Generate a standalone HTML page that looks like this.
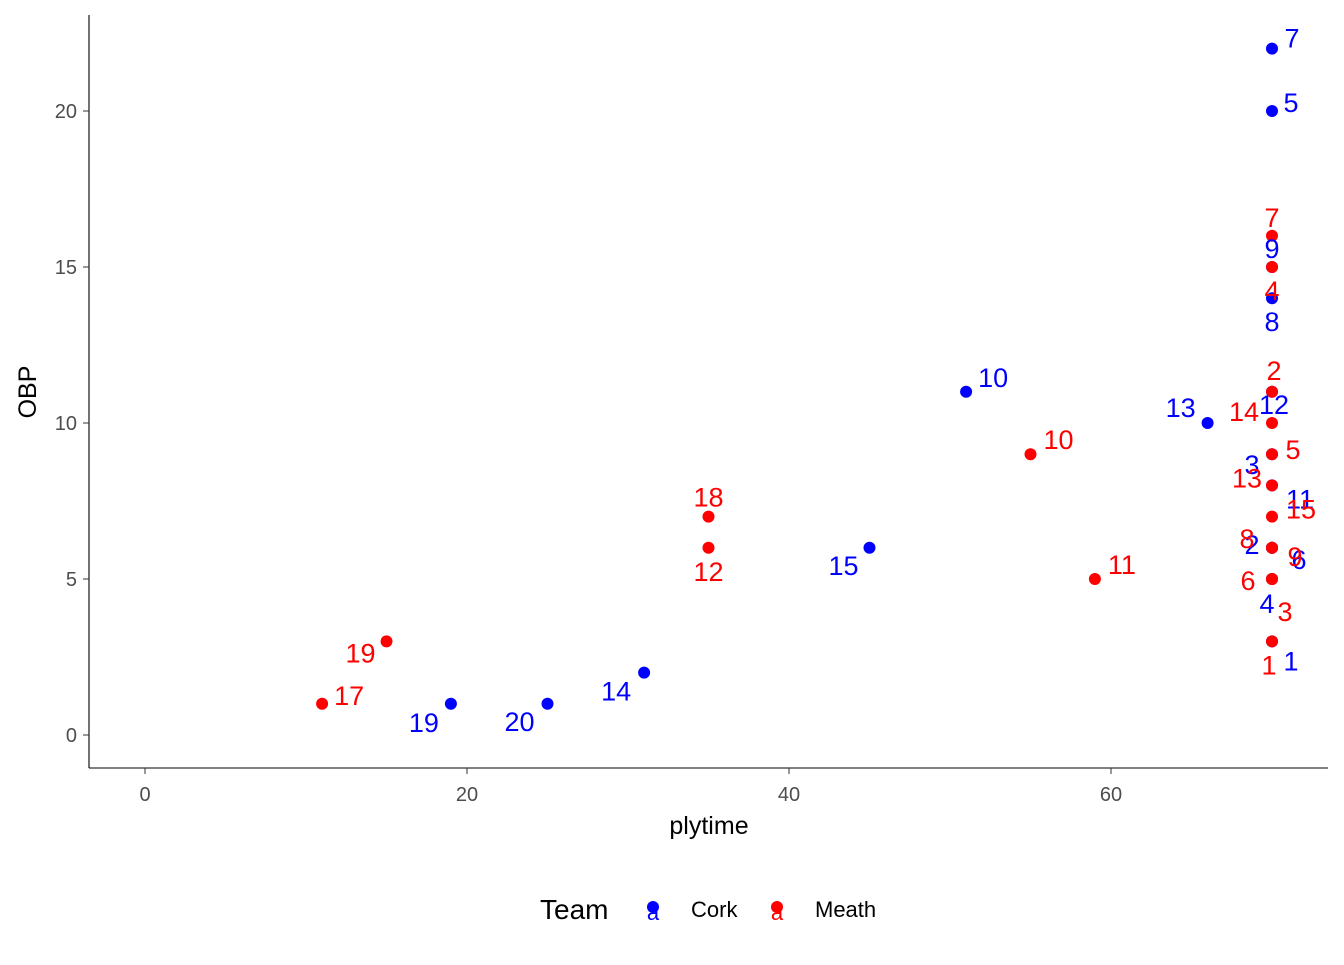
<!DOCTYPE html>
<html><head><meta charset="utf-8"><style>
body{margin:0;background:#fff}
text{font-family:"Liberation Sans",Arial,sans-serif}
</style></head><body>
<svg id="c" width="1344" height="960"></svg>
<script>
const corkX=[70,70,70,70,70,70,70,70,70,70,70,51,66,45,31,25,19];
const corkY=[22,20,15,14,11,9,8,6,6,5,3,11,10,6,2,1,1];
const corkLab=["7","5","9","8","12","3","11","2","6","4","1","10","13","15","14","20","19"];
const corkDx=[20,19,0,0,2,-20,28,-20,27,-5,19,27,-27,-26,-28,-28,-27];
const corkDy=[-11,-9,-19,23,12,10,13,-4,11,24,19,-15,-16,17,18,17,18];
const meathX=[70,70,70,70,70,70,70,70,70,70,70,70,55,59,35,35,15,11];
const meathY=[16,15,11,10,9,8,7,6,6,5,5,3,9,5,7,6,3,1];
const meathLab=["7","4","2","14","5","13","15","8","9","6","3","1","10","11","18","12","19","17"];
const meathDx=[0,0,2,-28,21,-25,29,-25,23,-24,13,-3,28,27,0,0,-26,27];
const meathDy=[-19,23,-22,-12,-5,-8,-8,-10,8,1,32,23,-15,-15,-20,23,11,-9];
const xTicks=[0,20,40,60];
const yTicks=[0,5,10,15,20];
const sx=v=>145+16.1*v, sy=v=>735-31.2*v;
const svg=document.getElementById('c');const NS='http://www.w3.org/2000/svg';
function mk(t,a,p){const e=document.createElementNS(NS,t);for(const k in a)e.setAttribute(k,a[k]);(p||svg).appendChild(e);return e;}
let e;
e=mk('line',{x1:89,y1:15,x2:89,y2:768,stroke:'#000','stroke-width':1.1});


e=mk('line',{x1:89,y1:768,x2:1328,y2:768,stroke:'#000','stroke-width':1.1});


xTicks.forEach(t=>{
 mk('line',{x1:sx(t),y1:768,x2:sx(t),y2:774,stroke:'#333'});
 e=mk('text',{x:sx(t),y:801,'text-anchor':'middle','font-size':20,fill:'#4d4d4d'});e.textContent=t;
 
 
});
yTicks.forEach(t=>{
 mk('line',{x1:83,y1:sy(t),x2:89,y2:sy(t),stroke:'#333'});
 e=mk('text',{x:77,y:sy(t)+7,'text-anchor':'end','font-size':20,fill:'#4d4d4d'});e.textContent=t;
 
 
});
e=mk('text',{x:709,y:834,'text-anchor':'middle','font-size':25});e.textContent='plytime';


e=mk('text',{x:36,y:392,'text-anchor':'middle','font-size':25,transform:'rotate(-90 36 392)'});e.textContent='OBP';


corkX.forEach((v,i)=>{e=mk('circle',{cx:sx(v),cy:sy(corkY[i]),r:6,fill:'#0000ff'});
 
 });
meathX.forEach((v,i)=>{e=mk('circle',{cx:sx(v),cy:sy(meathY[i]),r:6,fill:'#ff0000'});
 
 });
corkX.forEach((v,i)=>{e=mk('text',{x:sx(v)+corkDx[i],y:sy(corkY[i])+corkDy[i]+10,'text-anchor':'middle','font-size':27,fill:'#0000ff'});e.textContent=corkLab[i];
 
 });
meathX.forEach((v,i)=>{e=mk('text',{x:sx(v)+meathDx[i],y:sy(meathY[i])+meathDy[i]+10,'text-anchor':'middle','font-size':27,fill:'#ff0000'});e.textContent=meathLab[i];
 
 });
e=mk('text',{x:540,y:919,'font-size':28});e.textContent='Team';


[['Cork','#0000ff',653,691],['Meath','#ff0000',777,815]].forEach(d=>{
 const g=mk('g',{});
 
 
 mk('circle',{cx:d[2],cy:907,r:6,fill:d[1]},g);
 const a=mk('text',{x:d[2],y:920,'text-anchor':'middle','font-size':22,fill:d[1]},g);a.textContent='a';
 const t=mk('text',{x:d[3],y:917,'font-size':22},g);t.textContent=d[0];
});
</script>
</body></html>
